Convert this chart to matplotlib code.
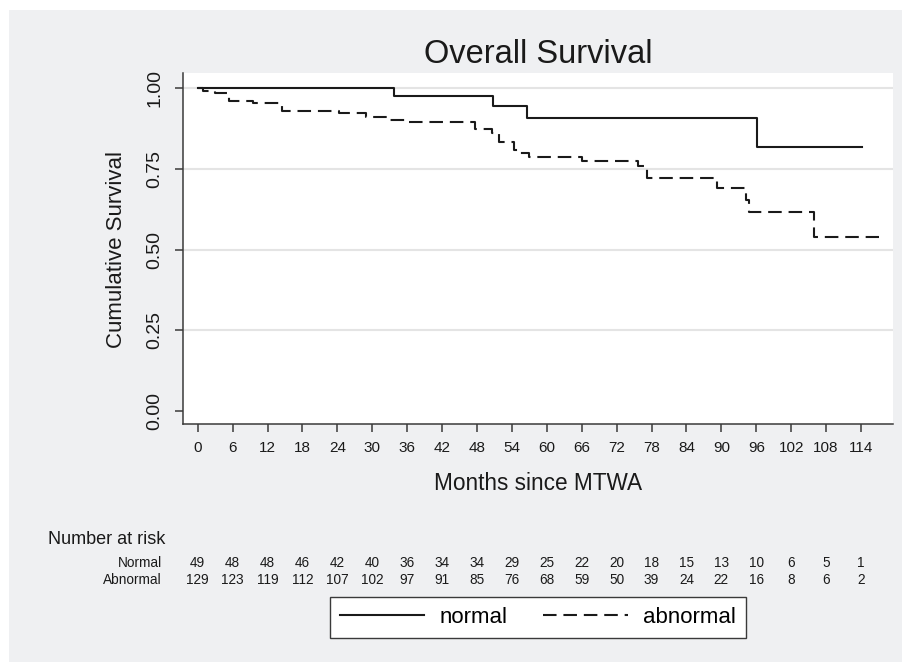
import matplotlib.pyplot as plt
from matplotlib.patches import Rectangle
from matplotlib.transforms import blended_transform_factory
from matplotlib.lines import Line2D

plt.rcParams['font.family'] = ['Liberation Sans', 'DejaVu Sans']

# survival steps
normal_t = [0, 33.8, 50.7, 56.6, 96.1, 114.2]
normal_s = [1.0, 0.976, 0.946, 0.907, 0.818, 0.818]

abnormal_t = [0, 0.9, 3.0, 5.3, 9.5, 14.5, 24.2, 29.0, 32.8, 36.0, 47.7, 50.6, 51.7,
              54.3, 55.3, 57.0, 66.1, 75.6, 77.3, 89.3, 94.2, 94.8, 106.0, 117.1]
abnormal_s = [1.0, 0.992, 0.984, 0.961, 0.953, 0.930, 0.922, 0.912, 0.902, 0.895, 0.873, 0.860, 0.834,
              0.809, 0.798, 0.786, 0.775, 0.760, 0.721, 0.690, 0.654, 0.615, 0.540, 0.540]

months = list(range(0, 115, 6))
risk_normal = [49, 48, 48, 46, 42, 40, 36, 34, 34, 29, 25, 22, 20, 18, 15, 13, 10, 6, 5, 1]
risk_abnormal = [129, 123, 119, 112, 107, 102, 97, 91, 85, 76, 68, 59, 50, 39, 24, 22, 16, 8, 6, 2]

W, H = 903, 662
fig = plt.figure(figsize=(W / 100, H / 100), dpi=100, facecolor='white')
bg = '#eff0f2'
fig.patches.append(Rectangle((9 / W, -0.01), 1.02 - 9 / W, 1.01 - 10 / H, transform=fig.transFigure,
                             facecolor=bg, edgecolor='none', zorder=-10))

def fy(py):
    return 1 - py / H

ax = fig.add_axes([182.7 / W, fy(424.3), (893 - 182.7) / W, (424.3 - 73.3) / H])
ax.set_facecolor('white')
ax.set_xlim(-2.58, 119.5)
ax.set_ylim(-0.042, 1.0465)

for g in [0.25, 0.5, 0.75, 1.0]:
    ax.axhline(g, color='#e4e4e4', lw=1.5, zorder=0)

ax.plot(normal_t, normal_s, drawstyle='steps-post', color='#1a1a1a', lw=1.5)
ax.plot(abnormal_t, abnormal_s, drawstyle='steps-post', color='#1a1a1a', lw=1.5,
        dashes=(6.5, 3.3))

for s in ['top', 'right']:
    ax.spines[s].set_visible(False)
for s in ['left', 'bottom']:
    ax.spines[s].set_color('#3a3a3a')
    ax.spines[s].set_linewidth(1.1)

ax.set_xticks(months)
ax.set_yticks([0, 0.25, 0.5, 0.75, 1.0])
ax.set_yticklabels(['0.00', '0.25', '0.50', '0.75', '1.00'], rotation=90, va='center')
ax.tick_params(axis='both', direction='out', length=6, width=1.1, color='#3a3a3a',
               labelcolor='#1a1a1a')
ax.tick_params(axis='x', pad=6, labelsize=11)
ax.tick_params(axis='y', pad=8, labelsize=14)

fig.text(538 / W, fy(63), 'Overall Survival', ha='center', va='baseline', fontsize=23.5, color='#1a1a1a')
fig.text(538 / W, fy(483), 'Months since MTWA', ha='center', va='center', fontsize=16.3, color='#1a1a1a')
fig.text(117 / W, fy(249), 'Cumulative Survival', ha='center', va='center', rotation=90,
         fontsize=16, color='#1a1a1a')

# number at risk table
fig.text(48 / W, fy(540), 'Number at risk', ha='left', va='center', fontsize=13, color='#1a1a1a')
fig.text(161.7 / W, fy(563.3), 'Normal', ha='right', va='center', fontsize=9.8, color='#1a1a1a')
fig.text(161.7 / W, fy(580), 'Abnormal', ha='right', va='center', fontsize=9.8, color='#1a1a1a')
tr = blended_transform_factory(ax.transData, fig.transFigure)
for m, a, b in zip(months, risk_normal, risk_abnormal):
    fig.text(m, fy(563.3), str(a), transform=tr, ha='center', va='center', fontsize=9.8, color='#1a1a1a')
    fig.text(m, fy(580), str(b), transform=tr, ha='center', va='center', fontsize=9.8, color='#1a1a1a')

handles = [Line2D([], [], color='#1a1a1a', lw=1.5),
           Line2D([], [], color='#1a1a1a', lw=1.5, dashes=(6.5, 3.3))]
leg = fig.legend(handles, ['normal', 'abnormal'], loc='center', ncol=2,
                 bbox_to_anchor=(537.9 / W, fy(617.3)), fontsize=16, frameon=True,
                 fancybox=False, handlelength=3.8, handletextpad=0.7, columnspacing=1.6,
                 borderpad=0.45, borderaxespad=0)
leg.get_frame().set_edgecolor('#3a3a3a')
leg.get_frame().set_linewidth(1.0)
leg.get_frame().set_facecolor('white')
leg.get_frame().set_alpha(1)

fig.savefig('out.png', dpi=100, facecolor=fig.get_facecolor())
